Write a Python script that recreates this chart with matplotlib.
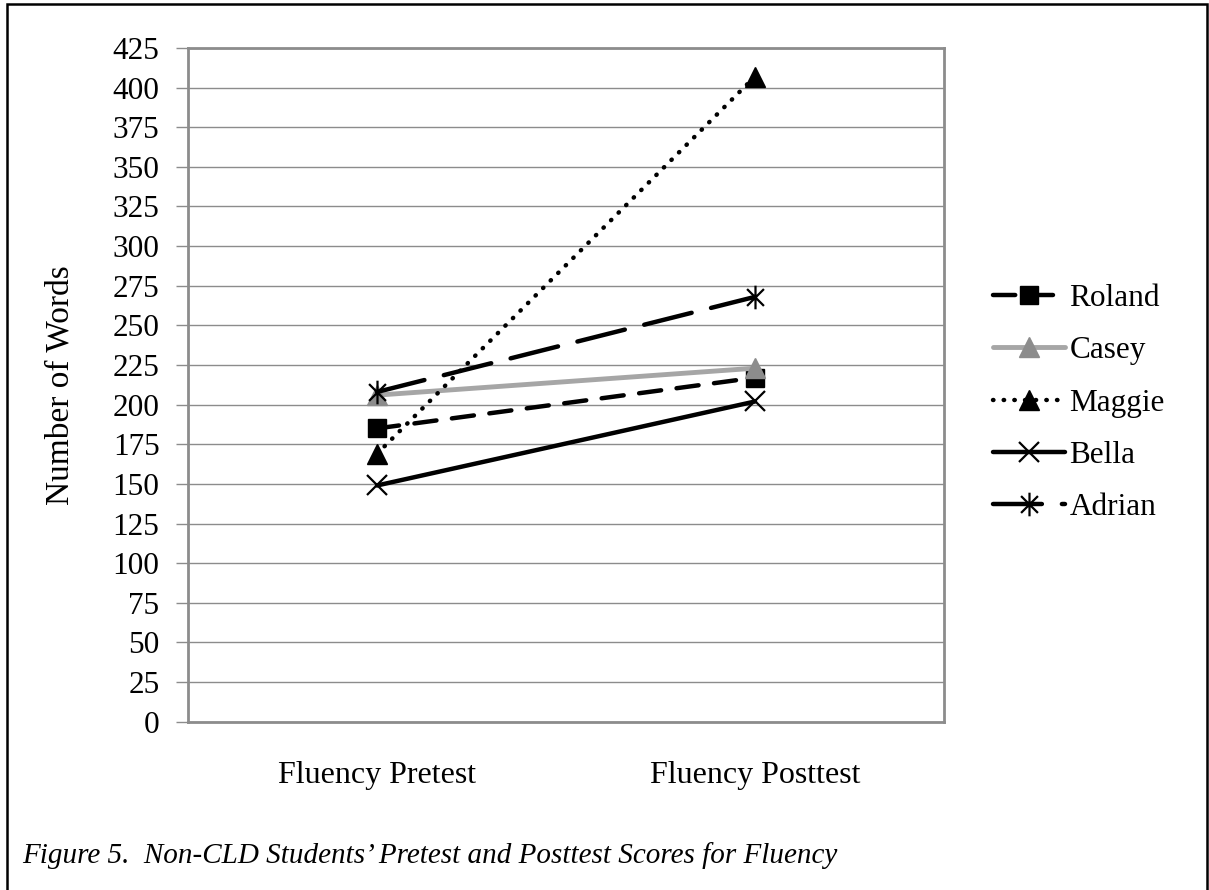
import numpy as np
import matplotlib.pyplot as plt
from matplotlib.patches import Rectangle
from matplotlib.path import Path

plt.rcParams['font.family'] = ['Liberation Serif', 'DejaVu Serif']

tests = ['Fluency Pretest', 'Fluency Posttest']
roland = [185, 217]
casey = [206, 223]
maggie = [169, 407]
bella = [149, 202]
adrian = [208, 268]

yticks = list(range(0, 426, 25))

# star marker: an x with a vertical bar through it
star = Path([(-1, -1), (1, 1), (-1, 1), (1, -1), (0, -1.4), (0, 1.4)],
            [Path.MOVETO, Path.LINETO, Path.MOVETO, Path.LINETO, Path.MOVETO, Path.LINETO])


def main():
    fig = plt.figure(figsize=(12.09, 8.90), dpi=100)
    ax = fig.add_axes([0.1555, 0.1891, 0.6253, 0.757])

    x = np.arange(len(tests))

    ax.plot(x, roland, color='black', lw=3.2, linestyle=(0, (5, 3.5)), dash_capstyle='round',
            marker='s', ms=13, mfc='black', mec='black', label='Roland', zorder=3)
    ax.plot(x, casey, color='#a6a6a6', lw=3.5, solid_capstyle='round',
            marker='^', ms=15, mfc='#8c8c8c', mec='#8c8c8c', label='Casey', zorder=4)
    ax.plot(x, maggie, color='black', lw=3.2, linestyle=(0, (0.1, 2.3)), dash_capstyle='round',
            marker='^', ms=14, mfc='black', mec='black', label='Maggie', zorder=5)
    ax.plot(x, bella, color='black', lw=3.2, solid_capstyle='round',
            marker='x', ms=15, mew=1.6, mfc='none', mec='black', label='Bella', zorder=6)
    ax.plot(x, adrian, color='black', lw=3.2, linestyle=(0, (11, 4.5)), dash_capstyle='round',
            marker=star, ms=17, mew=1.6, mfc='none', mec='black', label='Adrian', zorder=7)

    ax.set_xlim(-0.5, 1.5)
    ax.set_ylim(0, 425)
    ax.set_yticks(yticks)
    ax.set_xticks(x)
    ax.set_xticklabels(tests, fontsize=23)
    ax.tick_params(axis='y', labelsize=22.5, length=9, width=1, color='#8c8c8c', direction='out', pad=11.5)
    ax.tick_params(axis='x', length=0, pad=28)
    ax.yaxis.grid(True, color='#8c8c8c', lw=1)
    ax.set_axisbelow(True)
    for s in ax.spines.values():
        s.set_color('#8c8c8c')
        s.set_linewidth(2)

    ax.set_ylabel('Number of Words', fontsize=24, labelpad=27)

    ax.legend(loc='center left', bbox_to_anchor=(1.048, 0.473), frameon=False, fontsize=22.5,
              handlelength=2.3, handletextpad=0.15, labelspacing=0.75, borderaxespad=0)

    fig.text(0.018, 0.039, "Figure 5.  Non-CLD Students\u2019 Pretest and Posttest Scores for Fluency",
             fontsize=21, style='italic', va='center', ha='left')

    # border round the whole figure
    fig.patches.append(Rectangle((0.0058, -0.02), 0.9925, 1.0155, transform=fig.transFigure,
                                 fill=False, edgecolor='black', lw=1.8))

    fig.savefig('out.png', dpi=100)


if __name__ == '__main__':
    main()
